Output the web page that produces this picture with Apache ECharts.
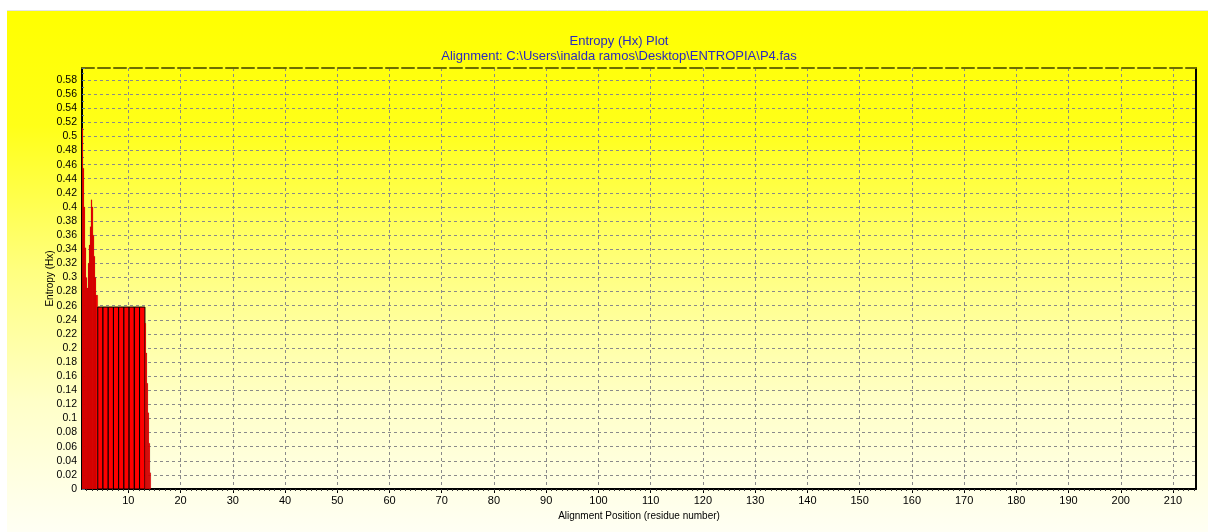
<!DOCTYPE html>
<html>
<head>
<meta charset="utf-8">
<script src="https://cdn.jsdelivr.net/npm/echarts@6/dist/echarts.min.js"></script>
<style>
html,body{margin:0;padding:0;background:#fff;}
#c{width:1208px;height:532px;}
</style>
</head>
<body>
<div id="c"></div>
<script>
// ---- data ----
const titleMain = 'Entropy (Hx) Plot';
const titleSub = 'Alignment: C:\\Users\\inalda ramos\\Desktop\\ENTROPIA\\P4.fas';
const xName = 'Alignment Position (residue number)';
const yName = 'Entropy (Hx)';
const xTickLabels = [10,20,30,40,50,60,70,80,90,100,110,120,130,140,150,160,170,180,190,200,210];
// alignment position bins: start, end, entropy value
const binStart = [1.13,1.32,1.51,1.70,1.90,2.09,2.28,2.47,2.66,2.85,3.05,3.24,3.43,3.62,3.81,
                  4.15,5.15,6.15,7.15,8.15,9.15,10.15,11.15,12.15,
                  13.18,13.37,13.56,13.75,13.94,14.13];
const binEnd   = [1.32,1.51,1.70,1.90,2.09,2.28,2.47,2.66,2.85,3.05,3.24,3.43,3.62,3.81,4.15,
                  5.15,6.15,7.15,8.15,9.15,10.15,11.15,12.15,13.18,
                  13.37,13.56,13.75,13.94,14.13,14.30];
const entropy  = [0.512,0.455,0.400,0.342,0.300,0.285,0.320,0.346,0.372,0.410,0.400,0.360,0.330,0.300,0.275,
                  0.258,0.258,0.258,0.258,0.258,0.258,0.258,0.258,0.258,
                  0.235,0.193,0.150,0.108,0.065,0.023];
const xMin = 1.13, xMax = 214.4;
const yMinV = 0, yMaxV = 0.597, yStep = 0.02;

const font = "'Liberation Sans', Arial, sans-serif";
const chart = echarts.init(document.getElementById('c'), null, {renderer:'canvas'});

const minorX = [];
for (let v = 2; v <= 214; v += 1) minorX.push(v);

const option = {
  animation: false,
  backgroundColor: '#ffffff',
  graphic: [
    {type:'rect', z:-10, silent:true,
     shape:{x:7, y:11, width:1201, height:521},
     style:{fill:{type:'linear', x:0, y:0, x2:0, y2:1, colorStops:[
       {offset:0, color:'#ffff00'},
       {offset:0.22, color:'#ffff18'},
       {offset:0.5, color:'#ffff80'},
       {offset:0.75, color:'#ffffc8'},
       {offset:1, color:'#fffff4'}]}}},
    {type:'line', z:-9, silent:true, shape:{x1:7,y1:10.5,x2:1208,y2:10.5}, style:{stroke:'#e4e4e4', lineWidth:1}},
    {type:'text', x:619, y:35, silent:true,
     style:{text:titleMain, font:'13px ' + font, fill:'#2a2ac0', textAlign:'center', textVerticalAlign:'top'}},
    {type:'text', x:619, y:50, silent:true,
     style:{text:titleSub, font:'13px ' + font, fill:'#2a2ac0', textAlign:'center', textVerticalAlign:'top'}}
  ],
  grid: {left:82, right:12, top:68, bottom:43, show:false},
  xAxis: [
    {type:'value', min:xMin, max:xMax, position:'bottom',
     name:xName, nameLocation:'middle', nameGap:19,
     nameTextStyle:{fontFamily:font, fontSize:10, color:'#000'},
     axisLine:{show:true, onZero:false, lineStyle:{color:'#000', width:2}},
     axisTick:{show:true, customValues:xTickLabels, length:4, inside:false, lineStyle:{color:'#000'}},
     axisLabel:{customValues:xTickLabels, fontFamily:font, fontSize:11, color:'#000', margin:6},
     splitLine:{show:true, lineStyle:{color:'#8a8a8a', type:[3,3], width:1}}},
    {type:'value', min:xMin, max:xMax, position:'top',
     axisLine:{show:true, onZero:false, lineStyle:{color:'#6e6e00', width:2, type:[12,4]}},
     axisTick:{show:false}, axisLabel:{show:false}, splitLine:{show:false}},
    {type:'value', min:xMin, max:xMax, position:'bottom',
     axisLine:{show:false}, axisLabel:{show:false}, splitLine:{show:false},
     axisTick:{show:true, customValues:minorX, length:2, lineStyle:{color:'#333'}}}
  ],
  yAxis: [
    {type:'value', min:yMinV, max:yMaxV, interval:yStep, position:'left',
     name:yName, nameLocation:'middle', nameGap:27, nameRotate:90, nameMoveOverlap:false,
     nameTextStyle:{fontFamily:font, fontSize:10, color:'#000'},
     axisLine:{show:true, onZero:false, lineStyle:{color:'#000', width:2}},
     axisTick:{show:true, inside:true, length:3, lineStyle:{color:'#5a7a8a'}},
     minorTick:{show:true, splitNumber:2, length:2, lineStyle:{color:'#5a7a8a'}},
     axisLabel:{fontFamily:font, fontSize:10.5, color:'#000', margin:5, showMaxLabel:false,
       formatter:function(v){return String(Math.round(v*100)/100);}},
     splitLine:{show:true, showMaxLine:false, lineStyle:{color:'#8a8a8a', type:[3,3], width:1}}},
    {type:'value', min:yMinV, max:yMaxV, position:'right',
     axisLine:{show:true, onZero:false, lineStyle:{color:'#000', width:2}},
     axisTick:{show:false}, axisLabel:{show:false}, splitLine:{show:false}}
  ],
  series: [{
    type:'custom', xAxisIndex:0, yAxisIndex:0, clip:true,
    encode:{x:[0,1], y:2},
    data: binStart.map(function(s,i){return [s, binEnd[i], entropy[i]];}),
    renderItem: function(params, api){
      const x0 = api.value(0), x1 = api.value(1), y = api.value(2);
      const p0 = api.coord([x0, 0]);
      const p1 = api.coord([x1, y]);
      const fine = (x1 - x0) < 0.5;
      return {type:'rect',
        shape:{x:p0[0], y:p1[1], width:p1[0]-p0[0], height:p0[1]-p1[1]},
        style:{fill:'#ff0000', stroke: fine ? 'rgba(0,0,0,0.3)' : '#000', lineWidth: fine ? 0.4 : 1}};
    }
  }]
};
chart.setOption(option);
</script>
</body>
</html>
